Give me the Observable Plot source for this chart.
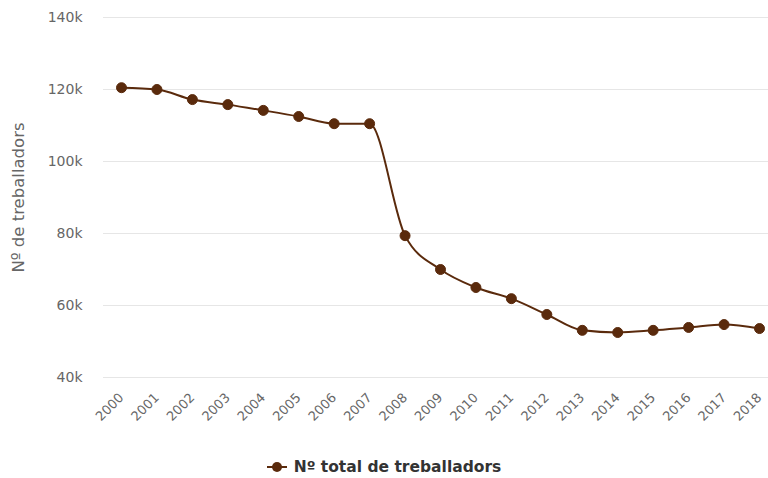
<!DOCTYPE html>
<html>
<head>
<meta charset="utf-8">
<script src="https://cdn.jsdelivr.net/npm/d3@7"></script>
<script src="https://cdn.jsdelivr.net/npm/@observablehq/plot@0.6"></script>
<style>
  html, body { margin: 0; padding: 0; background: #fff; }
  body { width: 768px; height: 478px; overflow: hidden; font-family: "DejaVu Sans", sans-serif; }
  #legend { margin-top: 16px; height: 22px; display: flex; align-items: center; justify-content: center; font-weight: bold; font-size: 15.5px; color: #333; }
  #legend svg { margin-right: 7px; }
</style>
</head>
<body>
<div id="chart"></div>
<div id="legend"></div>
<script>
const years = [2000,2001,2002,2003,2004,2005,2006,2007,2008,2009,2010,2011,2012,2013,2014,2015,2016,2017,2018];
const workers = [120500,120000,117200,115800,114200,112500,110500,110500,79400,70000,65000,61900,57500,53100,52500,53100,53900,54700,53600];
const yTicks = [40000,60000,80000,100000,120000,140000];
const seriesName = "Nº total de treballadors";
const yTitle = "Nº de treballadors";
const color = "#5a2a0c";

const data = years.map((y, i) => ({year: y, value: workers[i]}));

const chart = Plot.plot({
  width: 768,
  height: 440,
  marginLeft: 103,
  marginRight: 0,
  marginTop: 17,
  marginBottom: 63,
  insetLeft: 18,
  insetRight: 9,
  style: {fontFamily: "DejaVu Sans, sans-serif", fontSize: "14px", color: "#666"},
  x: {type: "linear", domain: [2000, 2018], label: null},
  y: {domain: [40000, 140000], label: null},
  marks: [
    Plot.ruleY(yTicks, {stroke: "#e6e6e6", strokeWidth: 1}),
    Plot.axisX({ticks: years, tickFormat: d => String(d), tickRotate: -45, tickSize: 0, tickPadding: 18, fill: "#666", fontSize: 13, label: null}),
    Plot.axisY({ticks: yTicks, tickFormat: d => (d / 1000) + "k", tickSize: 0, tickPadding: 21, fill: "#666", label: null}),
    Plot.line(data, {x: "year", y: "value", stroke: color, strokeWidth: 2, curve: "monotone-x"}),
    Plot.dot(data, {x: "year", y: "value", r: 5, fill: color, stroke: color, strokeWidth: 1}),
    Plot.text([yTitle], {frameAnchor: "left", dx: -85, rotate: -90, textAnchor: "middle", fill: "#666", fontSize: 16.5, text: d => d})
  ]
});
document.getElementById("chart").appendChild(chart);

const legend = document.getElementById("legend");
legend.innerHTML = `<svg width="20" height="12"><line x1="0" y1="6" x2="20" y2="6" stroke="${color}" stroke-width="2"/><circle cx="10" cy="6" r="5" fill="${color}"/></svg><span>${seriesName}</span>`;
</script>
</body>
</html>
